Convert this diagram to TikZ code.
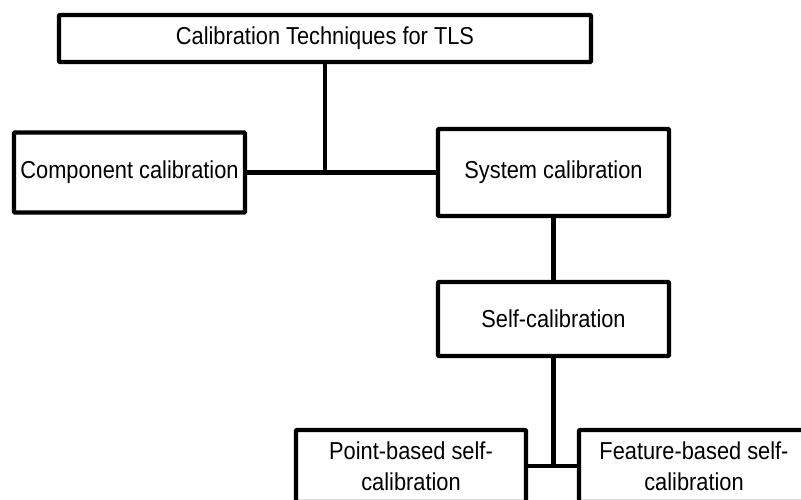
\documentclass[tikz,border=0pt]{standalone}
\usepackage{fontspec}
\setmainfont{Liberation Sans}[FakeStretch=0.89]
\usepackage{tikz}

\begin{document}
\begin{tikzpicture}[x=1pt,y=-1pt,
  box/.style={draw, line width=4.3pt, rounded corners=1pt, align=center,
    inner sep=0pt, font=\fontsize{24.5}{31}\selectfont},
  link/.style={line width=4.3pt}]
\useasboundingbox (0,0) rectangle (801,500);
\node[box, minimum width=532pt, minimum height=47pt] (title) at (325,38.5) {Calibration Techniques for TLS};
\node[box, minimum width=231pt, minimum height=80pt] (comp) at (129.5,172.5) {Component calibration};
\node[box, minimum width=231pt, minimum height=87pt] (sys) at (553.5,172.5) {System calibration};
\node[box, minimum width=231pt, minimum height=74pt] (self) at (553.5,319) {Self-calibration};
\node[box, minimum width=230pt, minimum height=72pt] (point) at (411,466) {Point-based self-\\calibration};
\node[box, minimum width=230pt, minimum height=72pt] (feat) at (694,466) {Feature-based self-\\calibration};
\draw[link] (title.south) -- (title.south |- comp.east);
\draw[link] (comp.east) -- (sys.west);
\draw[link] (sys.south) -- (self.north);
\draw[link] (self.south) -- (self.south |- point.east);
\draw[link] (point.east) -- (feat.west);
\end{tikzpicture}
\end{document}
